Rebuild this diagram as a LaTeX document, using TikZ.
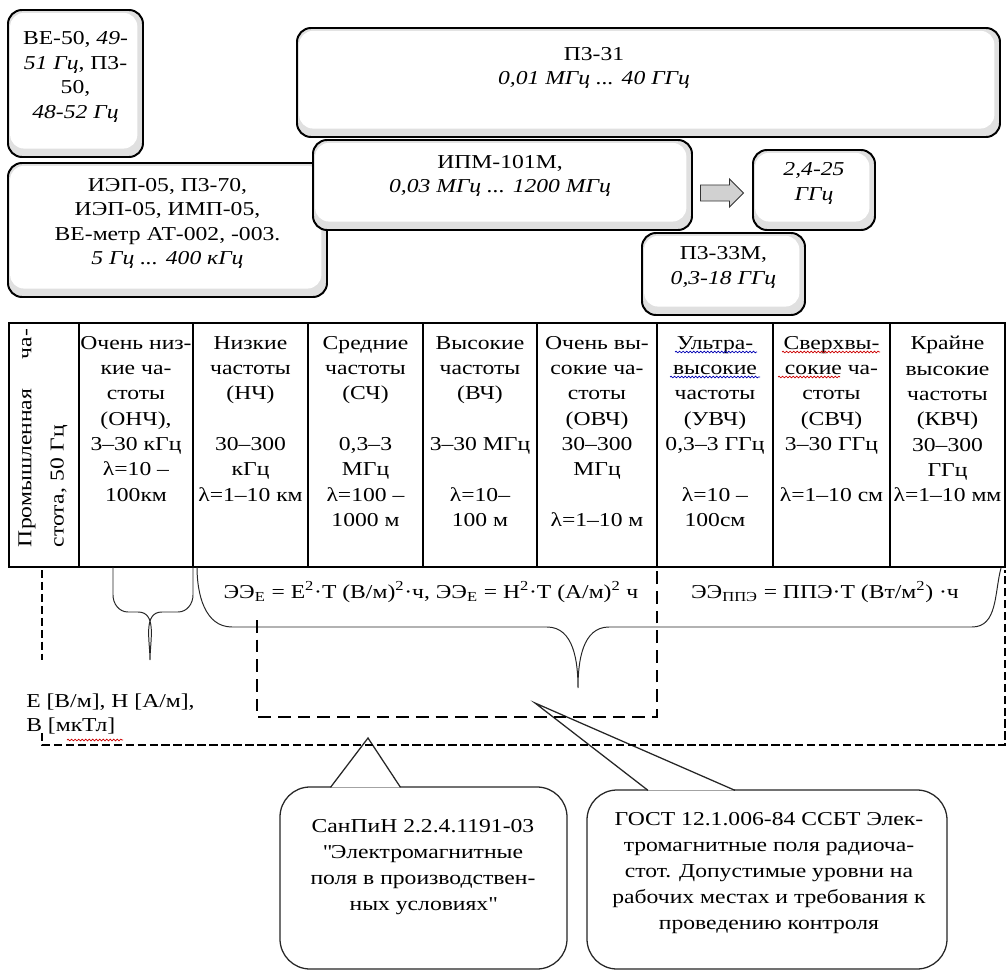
\documentclass[tikz,border=0pt]{standalone}
\usepackage{fontspec}
\setmainfont{Liberation Serif}[FakeStretch=1.2]
\usetikzlibrary{fit,shapes.arrows,decorations.pathmorphing}
\tikzset{
  box/.style={draw=black, line width=1.4pt, rounded corners=0.35cm, inner sep=0pt, align=center, fill=black!12,
    path picture={\fill[white] ([xshift=1.5pt,yshift=-2pt]path picture bounding box.north west) rectangle ([xshift=-4pt,yshift=6pt]path picture bounding box.south east);}},
  txt/.style={align=center, inner sep=0pt},
  cell/.style={anchor=north, align=center, inner sep=0pt, font=\fontsize{14}{18}\selectfont},
  grid/.style={line width=0.8pt},
  brace/.style={line width=0.7pt, draw=black!85},
  outerdash/.style={line width=1.5pt, dash pattern=on 6pt off 2.5pt},
  innerdash/.style={line width=1.5pt, dash pattern=on 9pt off 5pt},
  callout/.style={draw=black!85, line width=0.9pt, rounded corners=0.75cm, inner sep=0pt, fill=white},
  pointer/.style={draw=black!85, line width=0.9pt, fill=white},
  spell/.style={decorate, decoration={snake, amplitude=0.6pt, segment length=2.5pt}, line width=0.5pt}
}

\begin{document}
\begin{tikzpicture}[x=0.025cm, y=-0.025cm, font=\fontsize{14}{17.5}\selectfont]
\useasboundingbox (0,0) rectangle (1008,973);

\node[box, fit={(8,10) (143,157)}] (be50) {ВЕ-50, \textit{49-}\\\textit{51 Гц}, П3-\\50,\\\textit{48-52 Гц}};
\node[box, fit={(8,163) (327,297)}] (iep) {ИЭП-05, П3-70,\\ИЭП-05, ИМП-05,\\ВЕ-метр АТ-002, -003.\\\textit{5 Гц ... 400 кГц}};
\node[box, fit={(297,28) (1000,137)}] (pz31) {};
\node[txt] (pz31t) at (594,68) {П3-31\\\textit{0,01 МГц ... 40 ГГц}};
\node[box, fit={(313,140) (692,230)}] (ipm) {};
\node[txt] (ipmt) at (500,176) {ИПМ-101М,\\\textit{0,03 МГц ... 1200 МГц}};
\node[box, fit={(753,150) (875,230)}] (ghz) {\textit{2,4-25}\\\textit{ГГц}};
\node[box, fit={(642,233) (805,315)}] (pz33) {П3-33М,\\\textit{0,3-18 ГГц}};
\node[single arrow, draw=black!80, fill=black!18, line width=0.6pt, inner sep=0.19cm,
  minimum height=1.075cm, single arrow head extend=0.15cm] (arr) at (718,193) {};

\draw[grid] (9,323) rectangle (1005,567);
\foreach \x in {79,193,308,423,537,773,890} \draw[grid] (\x,323) -- (\x,567);
\draw[line width=1.8pt] (657,323) -- (657,567);

\node[cell, anchor=center, rotate=90, text width=5.45cm, align=left] (prom) at (43,438) {Промышленная\hfill ча-\\[5pt]стота, 50 Гц};
\node[cell] (onch) at (136,336) {Очень низ-\\кие ча-\\стоты\\(ОНЧ),\\3–30 кГц\\λ=10 –\\100км};
\node[cell] (nch) at (250.5,336) {Низкие\\частоты\\(НЧ)\\[18pt]30–300\\кГц\\λ=1–10 км};
\node[cell] (sch) at (365.5,336) {Средние\\частоты\\(СЧ)\\[18pt]0,3–3\\МГц\\λ=100 –\\1000 м};
\node[cell] (vch) at (480,336) {Высокие\\частоты\\(ВЧ)\\[18pt]3–30 МГц\\[18pt]λ=10–\\100 м};
\node[cell] (ovch) at (597,336) {Очень вы-\\сокие ча-\\стоты\\(ОВЧ)\\30–300\\МГц\\[18pt]λ=1–10 м};
\node[cell] (uvch) at (715,336) {Ультра-\\высокие\\частоты\\(УВЧ)\\0,3–3 ГГц\\[18pt]λ=10 –\\100см};
\node[cell] (svch) at (831.5,336) {Сверхвы-\\сокие ча-\\стоты\\(СВЧ)\\3–30 ГГц\\[18pt]λ=1–10 см};
\node[cell] (kvch) at (947.5,336) {Крайне\\высокие\\частоты\\(КВЧ)\\30–300\\ГГц\\λ=1–10 мм};
\draw[spell, blue!70!black] (675,352) -- (757,352);
\draw[spell, blue!70!black] (670,377) -- (760,377);
\draw[spell, red!80!black] (782,352) -- (880,352);
\draw[spell, red!80!black] (778,377) -- (840,377);

\draw[brace] (113,567) -- (113,595) to[out=270,in=180] (128,612) -- (138,612) to[out=0,in=90] (150,660)
  to[out=90,in=180] (162,612) -- (178,612) to[out=0,in=270] (193,595) -- (193,567);
\draw[brace] (197,567) to[out=270,in=180] (232,627) -- (547,627) to[out=0,in=90] (578,688)
  to[out=90,in=180] (609,627) -- (972,627) to[out=0,in=255] (1001,568);
\node[txt] (eeE) at (431,592) {ЭЭ\textsubscript{E} = E\textsuperscript{2}·T (В/м)\textsuperscript{2}·ч, ЭЭ\textsubscript{E} = H\textsuperscript{2}·T (А/м)\textsuperscript{2} ч};
\node[txt] (eePPE) at (825,592) {ЭЭ\textsubscript{ППЭ} = ППЭ·T (Вт/м\textsuperscript{2}) ·ч};
\node[txt, align=left, anchor=west] (units) at (26,714) {E [В/м], H [А/м],\\B [мкТл]};
\draw[spell, red!80!black] (67,740) -- (123,740);

\node[callout, fit={(280,787) (567,969)}] (sanpin) {};
\coordinate (sanpintip) at (368,738);
\draw[pointer] ([shift={(-93,1)}]sanpin.north) -- (sanpintip) -- ([shift={(-23,1)}]sanpin.north);
\node[txt, font=\fontsize{14}{18.5}\selectfont] (sanpint) at (423,867) {СанПиН 2.2.4.1191-03\\\textquotedbl Электромагнитные\\поля в производствен-\\ных условиях\textquotedbl};
\node[callout, fit={(587,790) (947,969)}] (gost) {};
\coordinate (gosttip) at (535,703);
\draw[pointer] ([shift={(-119,1)}]gost.north) -- (gosttip) -- ([shift={(-32,1)}]gost.north);
\node[txt, font=\fontsize{14}{18.5}\selectfont] (gostt) at (769,873) {ГОСТ 12.1.006-84 ССБТ Элек-\\тромагнитные поля радиоча-\\стот. Допустимые уровни на\\рабочих местах и требования к\\проведению контроля};

\draw[outerdash] (42,570) -- (42,660);
\draw[outerdash] (42,733) -- (42,745) -- (1005,745) -- (1005,570);
\draw[innerdash] (257,620) -- (257,717) -- (657,717) -- (657,570);
\end{tikzpicture}
\end{document}
